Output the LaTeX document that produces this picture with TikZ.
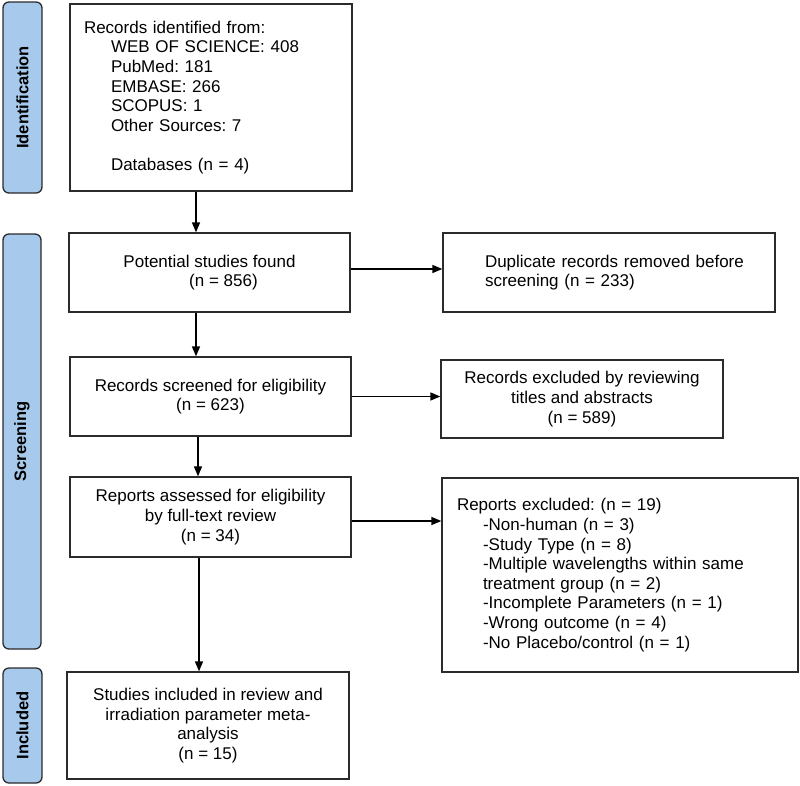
\documentclass[tikz,border=0pt]{standalone}
\usepackage{fontspec}
\setmainfont{Liberation Sans}
\usetikzlibrary{arrows.meta}
\definecolor{labfill}{HTML}{A6C9EC}
\definecolor{boxline}{HTML}{2B2B2B}
\frenchspacing
\hyphenpenalty=10000
\exhyphenpenalty=10000
\begin{document}
\begin{tikzpicture}[x=1pt,y=-1pt,
  box/.style={draw=boxline,line width=1.3pt,rectangle,inner sep=0pt,
    font=\fontsize{17}{19.6}\selectfont},
  lab/.style={draw=boxline,line width=1.3pt,fill=labfill,rounded corners=6pt,inner sep=0pt},
  labtext/.style={rotate=90,font=\fontsize{16.5}{19}\selectfont\bfseries},
  arr/.style={line width=1.4pt,-{Triangle[length=10pt,width=8pt]}}]
\useasboundingbox (0,0) rectangle (800,785);
% side labels
\node[lab,minimum width=39pt,minimum height=191pt] (L1) at (22.5,97.5) {};
\node[labtext] (T1) at (L1) {Identification};
\node[lab,minimum width=38pt,minimum height=415pt] (L2) at (22,441.5) {};
\node[labtext] (T2) at (L2) {Screening};
\node[lab,minimum width=39pt,minimum height=115pt] (L3) at (22.5,725.5) {};
\node[labtext] (T3) at (L3) {Included};
% main column
\node[box,minimum width=282pt,minimum height=187pt,text width=254pt,align=left] (b1) at (211,97.5)
 {Records identified from:\\
  \hspace*{27pt}WEB OF SCIENCE: 408\\
  \hspace*{27pt}PubMed: 181\\
  \hspace*{27pt}EMBASE: 266\\
  \hspace*{27pt}SCOPUS: 1\\
  \hspace*{27pt}Other Sources: 7\\[19.6pt]
  \hspace*{27pt}Databases (n = 4)};
\node[box,minimum width=281pt,minimum height=79pt,align=center] (b2) at (209.5,272.5)
 {Potential studies found\\ \hspace*{28pt}(n = 856)};
\node[box,minimum width=281pt,minimum height=79pt,align=center] (b3) at (210.5,396.5)
 {Records screened for eligibility\\ (n = 623)};
\node[box,minimum width=281pt,minimum height=80pt,align=center] (b4) at (210.5,517)
 {Reports assessed for eligibility\\ by full-text review\\ (n = 34)};
\node[box,minimum width=282pt,minimum height=107pt,align=center] (b5) at (208,725.5)
 {Studies included in review and\\ irradiation parameter meta-\\ analysis\\ (n = 15)};
% right column
\node[box,minimum width=332pt,minimum height=79pt,text width=280pt,align=left] (r1) at (609,272.5)
 {\hspace*{16pt}Duplicate records removed before\\ \hspace*{16pt}screening (n = 233)};
\node[box,minimum width=282pt,minimum height=78pt,align=center] (r2) at (582,399)
 {Records excluded by reviewing\\ titles and abstracts\\ (n = 589)};
\node[box,minimum width=356pt,minimum height=194pt,text width=326pt,align=left] (r3) at (620,575)
 {Reports excluded: (n = 19)\\
  \hspace*{26pt}-Non-human (n = 3)\\
  \hspace*{26pt}-Study Type (n = 8)\\
  \hspace*{26pt}-Multiple wavelengths within same\\
  \hspace*{26pt}treatment group (n = 2)\\
  \hspace*{26pt}-Incomplete Parameters (n = 1)\\
  \hspace*{26pt}-Wrong outcome (n = 4)\\
  \hspace*{26pt}-No Placebo/control (n = 1)};
% vertical arrows
\draw[arr] ([xshift=-15pt]b1.south) -- ([xshift=-15pt]b1.south |- b2.north);
\draw[arr] ([xshift=-13.5pt]b2.south) -- ([xshift=-13.5pt]b2.south |- b3.north);
\draw[arr] ([xshift=-12.5pt]b3.south) -- ([xshift=-12.5pt]b3.south |- b4.north);
\draw[arr] ([xshift=-11.5pt]b4.south) -- ([xshift=-11.5pt]b4.south |- b5.north);
% horizontal arrows
\draw[arr] ([yshift=3.5pt]b2.east) -- ([yshift=3.5pt]b2.east -| r1.west);
\draw[arr] (b3.east) -- (b3.east -| r2.west);
\draw[arr] ([yshift=-4pt]b4.east) -- ([yshift=-4pt]b4.east -| r3.west);
\end{tikzpicture}
\end{document}
